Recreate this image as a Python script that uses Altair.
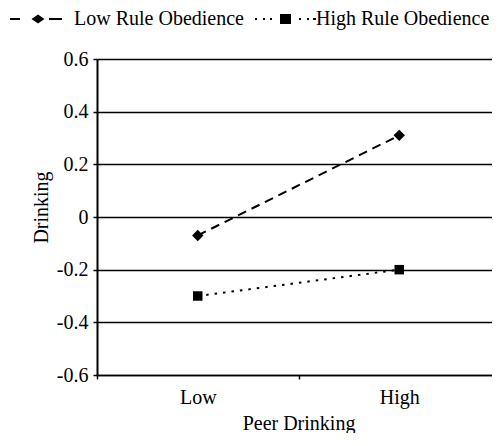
import altair as alt
import pandas as pd

peer = ["Low", "High"]
series = ["Low Rule Obedience", "High Rule Obedience"]
low_obedience = [-0.07, 0.31]
high_obedience = [-0.30, -0.20]
y_ticks = [-0.6, -0.4, -0.2, 0.0, 0.2, 0.4, 0.6]

rows = []
for p, v in zip(peer, low_obedience):
    rows.append({"peer": p, "series": series[0], "value": v})
for p, v in zip(peer, high_obedience):
    rows.append({"peer": p, "series": series[1], "value": v})
df = pd.DataFrame(rows)

FONT = "Liberation Serif"

# legend glyphs (dash-diamond-dash, dot-square-dot), all filled sub-paths
legend_paths = [
    "M-0.8,-0.1H0.2V0.1H-0.8Z "
    "M1.35,0L2,-0.45L2.65,0L2,0.45Z "
    "M3.1,-0.1H4.4V0.1H3.1Z",
    "M-0.5,-0.1H-0.3V0.1H-0.5Z M0.3,-0.1H0.5V0.1H0.3Z M1,-0.1H1.2V0.1H1Z "
    "M2,-0.5H3.1V0.5H2Z "
    "M3.9,-0.1H4.1V0.1H3.9Z M4.7,-0.1H4.9V0.1H4.7Z M5.3,-0.1H5.6V0.1H5.3Z",
]

x_enc = alt.X(
    "peer:N",
    sort=peer,
    bandPosition=0.5,
    scale=alt.Scale(type="band", domain=peer, paddingInner=0, paddingOuter=0,
                    range=[0, 403]),
    axis=alt.Axis(
        title="Peer Drinking",
        titleFont=FONT, titleFontSize=20, titleFontWeight="normal", titleColor="black",
        titleY=54, titleBaseline="alphabetic",
        labelFont=FONT, labelFontSize=20, labelColor="black", labelAngle=0,
        labelPadding=8, labelBaseline="top",
        tickBand="extent", tickSize=4, tickColor="black", tickWidth=1.5,
        domainColor="black", domainWidth=1.5, grid=False,
    ),
)
y_enc = alt.Y(
    "value:Q",
    scale=alt.Scale(domain=[-0.6, 0.6], nice=False, zero=False),
    axis=alt.Axis(
        values=y_ticks,
        labelExpr="(datum.value < -0.0001 ? '-' : '') + format(abs(datum.value), '.1~f')",
        title="Drinking",
        titleFont=FONT, titleFontSize=20, titleFontWeight="normal", titleColor="black",
        titleX=-56, titleY=148, titleAngle=-90, titleBaseline="middle", titleAlign="center",
        labelFont=FONT, labelFontSize=20, labelColor="black", labelPadding=5,
        tickSize=4, tickColor="black", tickWidth=1.5,
        domainColor="black", domainWidth=2,
        grid=True, gridColor="black", gridWidth=1.5, gridOpacity=1,
    ),
)

lines = alt.Chart(df).mark_line(color="black", strokeWidth=2).encode(
    x=x_enc,
    y=y_enc,
    strokeDash=alt.StrokeDash(
        "series:N",
        scale=alt.Scale(domain=series, range=[[9, 6], [2.5, 6]]),
        legend=None,
    ),
    detail="series:N",
)

points = alt.Chart(df).mark_point(filled=True, color="black", opacity=1).encode(
    x=x_enc,
    y=y_enc,
    shape=alt.Shape(
        "series:N",
        scale=alt.Scale(domain=series, range=["diamond", "square"]),
        legend=None,
    ),
    size=alt.Size(
        "series:N",
        scale=alt.Scale(domain=series, range=[130, 90]),
        legend=None,
    ),
)

legend_layer = alt.Chart(df).mark_point(
    filled=True, color="black", opacity=0
).encode(
    x=x_enc,
    y=y_enc,
    shape=alt.Shape(
        "series:N",
        scale=alt.Scale(domain=series, range=legend_paths),
        legend=alt.Legend(
            title=None, orient="none", legendX=-89, legendY=-50,
            direction="horizontal",
            labelFont=FONT, labelFontSize=20, labelColor="black", labelLimit=400,
            labelOffset=46, columnPadding=6,
            symbolSize=400, symbolStrokeWidth=0,
            symbolFillColor="black", symbolStrokeColor="black",
            symbolOpacity=1,
        ),
    ),
)

chart = (
    alt.layer(lines, points, legend_layer)
    .resolve_scale(shape="independent", size="independent")
    .properties(
        width=395, height=316,
        autosize=alt.AutoSizeParams(type="none"),
        padding={"left": 89, "top": 51, "right": 0, "bottom": 58},
    )
    .configure_view(stroke=None)
    .configure(background="white")
)

chart.save("out.html", embed_options={"renderer": "svg", "actions": False})
